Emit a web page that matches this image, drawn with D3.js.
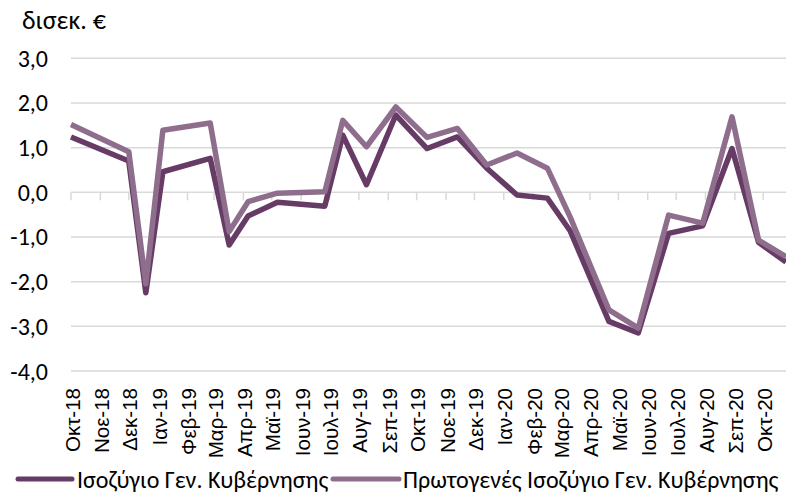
<!DOCTYPE html>
<html>
<head>
<meta charset="utf-8">
<script src="https://cdn.jsdelivr.net/npm/d3@7"></script>
<style>
  html, body { margin: 0; padding: 0; background: #ffffff; }
  svg { display: block; }
  text { font-family: Carlito, Calibri, Roboto, sans-serif; fill: #000; }
  .month { font-family: "Liberation Sans", Arial, sans-serif; }
</style>
</head>
<body>
<svg id="chart" width="786" height="497"></svg>
<script>
// Observation dates of the two series
const dates = ["2018-10-01","2018-12-01","2018-12-19","2019-01-06","2019-02-25","2019-03-17",
  "2019-04-06","2019-05-07","2019-06-26","2019-07-15","2019-08-09","2019-09-09","2019-10-12",
  "2019-11-13","2019-12-14","2020-01-15","2020-02-16","2020-03-11","2020-04-21","2020-05-22",
  "2020-06-23","2020-07-29","2020-08-29","2020-09-26","2020-10-25"];

// General government balance (bn €)
const balance = [1.24, 0.70, -2.25, 0.46, 0.76, -1.18, -0.53, -0.22, -0.31, 1.28, 0.17, 1.73, 0.98,
  1.24, 0.54, -0.06, -0.13, -0.86, -2.89, -3.15, -0.92, -0.75, 0.98, -1.12, -1.56];

// General government primary balance (bn €)
const primary = [1.52, 0.91, -2.05, 1.39, 1.55, -0.88, -0.21, -0.02, 0.01, 1.61, 1.02, 1.91, 1.23,
  1.43, 0.61, 0.88, 0.54, -0.55, -2.63, -3.04, -0.51, -0.69, 1.69, -1.07, -1.44];

// Month labels on the time axis
const monthLabels = ["Οκτ-18","Νοε-18","Δεκ-18","Ιαν-19","Φεβ-19","Μαρ-19","Απρ-19","Μαϊ-19",
  "Ιουν-19","Ιουλ-19","Αυγ-19","Σεπ-19","Οκτ-19","Νοε-19","Δεκ-19","Ιαν-20","Φεβ-20","Μαρ-20",
  "Απρ-20","Μαϊ-20","Ιουν-20","Ιουλ-20","Αυγ-20","Σεπ-20","Οκτ-20"];

const yTicks = [3, 2, 1, 0, -1, -2, -3, -4];
const seriesNames = ["Ισοζύγιο Γεν. Κυβέρνησης", "Πρωτογενές Ισοζύγιο Γεν. Κυβέρνησης"];
const colors = ["#663b65", "#8f6e8d"];
const unitLabel = "δισεκ. €";

const svg = d3.select("#chart");
const parse = d3.utcParse("%Y-%m-%d");
const t = dates.map(parse);

const x = d3.scaleUtc()
  .domain([parse("2018-10-01"), parse("2020-10-25")])
  .range([71, 786]);
const y = d3.scaleLinear().domain([-4, 3]).range([371, 58.3]);

const fmt = v => d3.format(".1f")(v).replace(".", ",").replace("−", "-");

// Horizontal gridlines
svg.append("g").selectAll("line").data(yTicks).join("line")
  .attr("x1", x.range()[0]).attr("x2", x.range()[1])
  .attr("y1", d => y(d)).attr("y2", d => y(d))
  .attr("stroke", "#d9d9d9").attr("stroke-width", 1.5);

// Y axis labels
svg.append("g").selectAll("text").data(yTicks).join("text")
  .attr("x", 48).attr("y", d => y(d))
  .attr("text-anchor", "end").attr("dominant-baseline", "central")
  .style("font-size", "24px")
  .text(fmt);

// Unit label
svg.append("text").attr("x", 22).attr("y", 29)
  .style("font-size", "26px").text(unitLabel);

// Month ticks on the zero line
const months = d3.utcMonth.range(parse("2018-10-01"), parse("2020-10-02"));
svg.append("g").selectAll("line").data(months).join("line")
  .attr("x1", d => x(d)).attr("x2", d => x(d))
  .attr("y1", y(0)).attr("y2", y(0) + 8)
  .attr("stroke", "#d9d9d9").attr("stroke-width", 1.5);

// Rotated month labels
svg.append("g").selectAll("text").data(months).join("text")
  .attr("class", "month")
  .attr("transform", d => `translate(${x(d) + 1},388) rotate(-90)`)
  .attr("text-anchor", "end").attr("dominant-baseline", "central")
  .style("font-size", "20.5px")
  .text((d, i) => monthLabels[i]);

// Series lines
const line = d3.line().x((d, i) => x(t[i])).y(d => y(d));
[balance, primary].forEach((vals, k) => {
  svg.append("path").datum(vals)
    .attr("d", line)
    .attr("fill", "none")
    .attr("stroke", colors[k])
    .attr("stroke-width", 5.5)
    .attr("stroke-linejoin", "round");
});

// Legend
const legend = [{x0: 18, x1: 72, tx: 77}, {x0: 333, x1: 399, tx: 403}];
legend.forEach((l, k) => {
  svg.append("line").attr("x1", l.x0).attr("x2", l.x1).attr("y1", 479).attr("y2", 479)
    .attr("stroke", colors[k]).attr("stroke-width", 5).attr("stroke-linecap", "round");
  svg.append("text").attr("x", l.tx).attr("y", 479)
    .attr("dominant-baseline", "central")
    .style("font-size", "24px").text(seriesNames[k]);
});
</script>
</body>
</html>
